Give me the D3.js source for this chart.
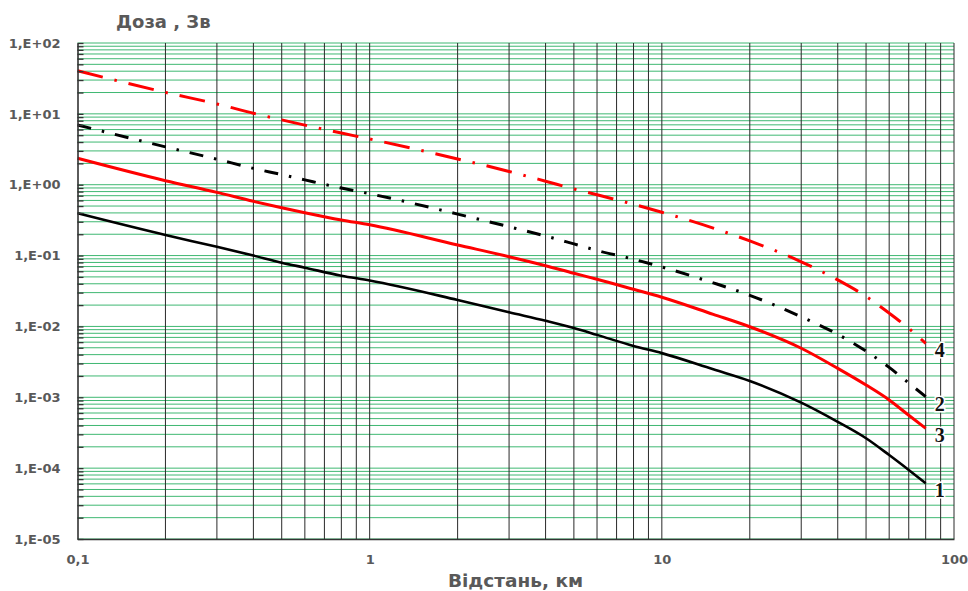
<!DOCTYPE html>
<html><head><meta charset="utf-8">
<script src="https://cdn.jsdelivr.net/npm/d3@7"></script>
<style>body{margin:0;background:#fff}svg{display:block}</style>
</head><body>
<svg id="chart" width="968" height="591"></svg>
<script>
// ---- data ----
const distances = [0.1,0.2,0.3,0.4,0.5,0.6,0.8,1,2,3,4,5,6,8,10,15,20,30,40,50,60,70,80];
const dose1 = [0.395,0.195,0.133,0.100,0.0794,0.0675,0.052,0.0445,0.0236,0.0158,0.0120,0.0095,0.0076,0.0053,0.0042,0.00248,0.0017,0.00084,0.00045,0.000264,0.000153,0.0000942,0.0000611];
const dose2 = [6.97,3.42,2.29,1.70,1.39,1.17,0.897,0.746,0.385,0.255,0.189,0.146,0.118,0.0887,0.069,0.0412,0.0275,0.01365,0.00773,0.00448,0.00264,0.00159,0.00102];
const dose3 = [2.36,1.14,0.78,0.583,0.474,0.403,0.318,0.272,0.141,0.0964,0.072,0.0562,0.0463,0.0334,0.0258,0.0148,0.0099,0.00492,0.00256,0.00149,0.000916,0.000557,0.000365];
const dose4 = [40.6,20.1,13.8,10.2,8.22,6.93,5.36,4.42,2.31,1.54,1.12,0.871,0.72,0.529,0.409,0.244,0.161,0.0817,0.0453,0.0265,0.0154,0.0094,0.00578];
const seriesNames = ["1","2","3","4"];
const yTickValues = [1e-5,1e-4,1e-3,1e-2,1e-1,1,10,100];
const yTickLabels = ["1,E-05","1,E-04","1,E-03","1,E-02","1,E-01","1,E+00","1,E+01","1,E+02"];
const xTickValues = [0.1,1,10,100];
const xTickLabels = ["0,1","1","10","100"];
const titleText = "Доза , Зв";
const xTitleText = "Відстань, км";

// ---- layout ----
const W = 968, H = 591;
const L = 77.5, R = 954, T = 43, B = 539;
const svg = d3.select("#chart");
const x = d3.scaleLog().domain([0.1, 100]).range([L, R]);
const y = d3.scaleLog().domain([1e-5, 100]).range([B, T]);

// minor grid values (1..9 per decade)
const yGrid = [];
for (let e = -5; e <= 1; e++) for (let k = 1; k <= 9; k++) yGrid.push(+(k * Math.pow(10, e)).toPrecision(3));
yGrid.push(100);
const xGrid = [];
for (let e = -1; e <= 1; e++) for (let k = 1; k <= 9; k++) xGrid.push(+(k * Math.pow(10, e)).toPrecision(3));
xGrid.push(100);

const gGrid = svg.append("g");
gGrid.selectAll("line.h").data(yGrid).join("line").attr("class","h")
  .attr("x1", L).attr("x2", R).attr("y1", d => y(d)).attr("y2", d => y(d))
  .attr("stroke", "#3fb872").attr("stroke-width", 1);
gGrid.selectAll("line.v").data(xGrid.filter(d => d > 0.1)).join("line").attr("class","v")
  .attr("x1", d => x(d)).attr("x2", d => x(d)).attr("y1", T).attr("y2", B)
  .attr("stroke", "#2a2a2a").attr("stroke-width", 1);

// ---- series ----
const series = [
  {name: seriesNames[0], values: dose1, color: "#000000", width: 2.6, dash: null},
  {name: seriesNames[1], values: dose2, color: "#000000", width: 3, dash: "14,11,2.5,11"},
  {name: seriesNames[2], values: dose3, color: "#ff0000", width: 3, dash: null},
  {name: seriesNames[3], values: dose4, color: "#ff0000", width: 3, dash: "26,12,2.5,12"}
];
const line = d3.line().x(d => x(d[0])).y(d => y(d[1])).curve(d3.curveMonotoneX);
const gLines = svg.append("g");
series.forEach(s => {
  const pts = distances.map((dd, i) => [dd, s.values[i]]);
  gLines.append("path").datum(pts)
    .attr("d", line).attr("fill", "none")
    .attr("stroke", s.color).attr("stroke-width", s.width)
    .attr("stroke-dasharray", s.dash)
    .attr("stroke-linejoin", "round");
  const last = pts[pts.length - 1];
  gLines.append("text")
    .attr("x", x(last[0]) + 14).attr("y", y(last[1]) + 14)
    .attr("text-anchor", "middle")
    .attr("font-family", "Liberation Serif, Times New Roman, serif")
    .attr("font-weight", "bold").attr("font-size", 20)
    .attr("fill", "#111")
    .attr("stroke", "#fff").attr("stroke-width", 3).attr("paint-order", "stroke")
    .text(s.name);
});

// ---- axes ----
const yAxis = d3.axisLeft(y).tickValues(yGrid)
  .tickSizeInner(-6).tickSizeOuter(0).tickPadding(17)
  .tickFormat(d => { const i = yTickValues.findIndex(v => Math.abs(v - d) / v < 1e-6); return i >= 0 ? yTickLabels[i] : ""; });
const gy = svg.append("g").attr("transform", `translate(${L},0)`).call(yAxis);
gy.select(".domain").attr("stroke", "#333").attr("stroke-width", 1.6);
gy.selectAll(".tick line").attr("stroke", "#333").attr("stroke-width", 1.3);
gy.selectAll(".tick text").attr("font-family", "DejaVu Sans, Verdana, sans-serif")
  .attr("font-weight", "bold").attr("font-size", 13).attr("fill", "#595959");

const xAxis = d3.axisBottom(x).tickValues(xTickValues).tickSize(0).tickPadding(16)
  .tickFormat(d => xTickLabels[xTickValues.indexOf(d)]);
const gx = svg.append("g").attr("transform", `translate(0,${B})`).call(xAxis);
gx.select(".domain").attr("stroke", "#333").attr("stroke-width", 1.6);
gx.selectAll(".tick text").attr("font-family", "DejaVu Sans, Verdana, sans-serif")
  .attr("font-weight", "bold").attr("font-size", 13).attr("fill", "#595959");

// ---- titles ----
svg.append("text").attr("x", 116).attr("y", 28)
  .attr("font-family", "DejaVu Sans, Verdana, sans-serif").attr("font-weight", "bold")
  .attr("font-size", 18).attr("fill", "#595959").text(titleText);
svg.append("text").attr("x", 515.5).attr("y", 587).attr("text-anchor", "middle")
  .attr("font-family", "DejaVu Sans, Verdana, sans-serif").attr("font-weight", "bold")
  .attr("font-size", 18.5).attr("fill", "#595959").text(xTitleText);
</script>
</body></html>
